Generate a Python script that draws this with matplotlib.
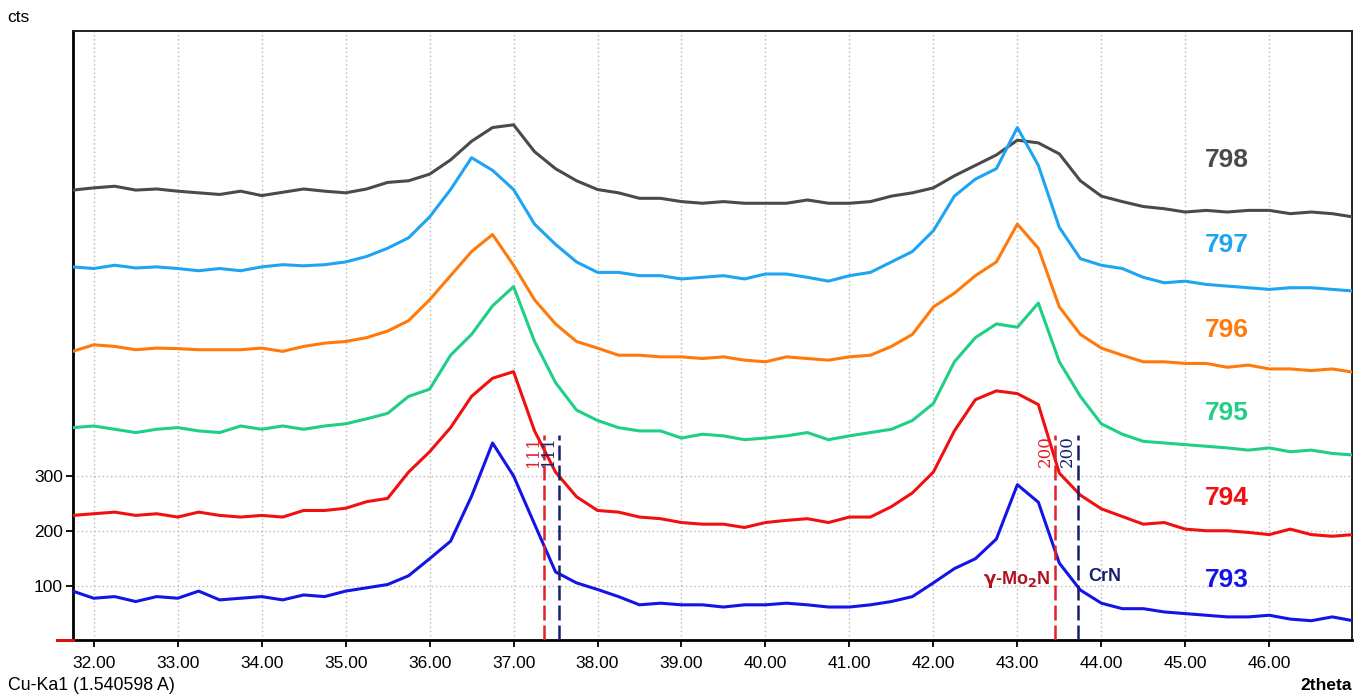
import numpy as np
import matplotlib.pyplot as plt

plt.rcParams['font.family'] = ['Liberation Sans', 'DejaVu Sans']

two_theta = [31.75, 32.00, 32.25, 32.50, 32.75, 33.00, 33.25, 33.50, 33.75, 34.00,
             34.25, 34.50, 34.75, 35.00, 35.25, 35.50, 35.75, 36.00, 36.25, 36.50,
             36.75, 37.00, 37.25, 37.50, 37.75, 38.00, 38.25, 38.50, 38.75, 39.00,
             39.25, 39.50, 39.75, 40.00, 40.25, 40.50, 40.75, 41.00, 41.25, 41.50,
             41.75, 42.00, 42.25, 42.50, 42.75, 43.00, 43.25, 43.50, 43.75, 44.00,
             44.25, 44.50, 44.75, 45.00, 45.25, 45.50, 45.75, 46.00, 46.25, 46.50,
             46.75, 47.00]

# counts as displayed (with the stacking offset of the original plot)
cts_798 = [821, 825, 828, 821, 823, 819, 816, 813, 819, 811, 817, 823, 819, 816, 823, 835,
           838, 850, 876, 910, 935, 940, 891, 860, 838, 822, 816, 806, 806, 800, 797, 800,
           797, 797, 797, 803, 797, 797, 800, 810, 816, 825, 847, 866, 885, 912, 907, 887,
           838, 810, 800, 791, 787, 781, 784, 781, 784, 784, 778, 781, 778, 772]
cts_797 = [681, 678, 684, 679, 681, 678, 674, 678, 674, 681, 685, 683, 685, 690, 700, 715,
           734, 772, 822, 880, 857, 822, 759, 722, 690, 671, 671, 665, 665, 659, 662, 665,
           659, 668, 668, 662, 655, 665, 671, 690, 709, 747, 810, 841, 860, 935, 866, 753,
           696, 684, 678, 662, 652, 655, 649, 646, 643, 640, 643, 643, 640, 637]
cts_796 = [527, 539, 536, 530, 533, 532, 530, 530, 530, 533, 527, 536, 542, 545, 552, 564,
           583, 621, 665, 709, 740, 684, 621, 577, 545, 533, 520, 520, 517, 517, 514, 517,
           511, 508, 517, 514, 511, 517, 520, 536, 558, 608, 633, 665, 690, 759, 715, 608,
           558, 533, 520, 508, 508, 505, 505, 498, 502, 495, 495, 492, 495, 489]
cts_795 = [388, 391, 385, 379, 385, 388, 382, 379, 391, 385, 391, 385, 391, 395, 404, 414,
           445, 458, 520, 558, 610, 645, 545, 470, 420, 401, 388, 382, 382, 369, 376, 373,
           366, 369, 373, 379, 366, 373, 379, 385, 401, 432, 508, 552, 577, 571, 615, 508,
           445, 395, 376, 363, 360, 357, 354, 351, 347, 351, 344, 347, 341, 338]
cts_794 = [228, 231, 234, 228, 231, 225, 234, 228, 225, 228, 225, 237, 237, 241, 253, 259,
           307, 344, 388, 445, 478, 490, 382, 307, 262, 237, 234, 225, 222, 215, 212, 212,
           206, 215, 219, 222, 215, 225, 225, 244, 269, 307, 382, 439, 455, 450, 430, 305,
           265, 240, 226, 212, 215, 203, 200, 200, 197, 193, 203, 193, 190, 193]
cts_793 = [90, 77, 80, 71, 80, 77, 90, 74, 77, 80, 74, 83, 80, 90, 96, 102,
           118, 149, 181, 263, 360, 300, 212, 125, 105, 93, 80, 65, 68, 65, 65, 61,
           65, 65, 68, 65, 61, 61, 65, 71, 80, 105, 131, 149, 185, 284, 252, 141,
           92, 68, 58, 58, 52, 49, 46, 43, 43, 46, 39, 36, 43, 36]

samples = ['798', '797', '796', '795', '794', '793']
series = [cts_798, cts_797, cts_796, cts_795, cts_794, cts_793]
colors = ['#4a4a4a', '#1ea4f2', '#ff7a0a', '#1fcf85', '#f01010', '#1414e6']
label_y = [876, 721, 566, 415, 260, 110]

# reference patterns: (2theta, hkl, colour)
ref_pos = [37.36, 37.54, 43.45, 43.72]
ref_hkl = ['111', '111', '200', '200']
ref_col = ['#e0202a', '#16206e', '#e0202a', '#16206e']
ref_top = 375

fig = plt.figure(figsize=(13.67, 6.98), dpi=100)
ax = fig.add_axes([0.0532, 0.0824, 0.9358, 0.8732])

for vals, c in zip(series, colors):
    ax.plot(two_theta, vals, color=c, lw=2.2, zorder=3)

for name, c, ly in zip(samples, colors, label_y):
    ax.text(45.5, ly, name, color=c, fontsize=19, fontweight='bold',
            ha='center', va='center', zorder=5)

for pos, hkl, c in zip(ref_pos, ref_hkl, ref_col):
    ax.plot([pos, pos], [0, ref_top], color=c, lw=1.8,
            dashes=(6, 2), zorder=4)
    ax.text(pos - 0.02, ref_top, hkl, color=c, fontsize=12, rotation=90,
            ha='right', va='top', family='DejaVu Serif', fontweight='light',
            zorder=4)

ax.text(43.39, 112, r'$\mathbf{\gamma}$-Mo$_\mathbf{2}$N', color='#b01020',
        fontsize=13, fontweight='bold', ha='right', va='center', zorder=5)
ax.text(43.84, 116, 'CrN', color='#16206e', fontsize=13, fontweight='bold',
        ha='left', va='center', zorder=5)

ax.set_xlim(31.75, 46.985)
ax.set_ylim(0, 1111)
ax.set_xticks(np.arange(32, 47, 1.0))
ax.set_xticklabels(['%.2f' % v for v in np.arange(32, 47, 1.0)])
ax.set_yticks([100, 200, 300])
ax.grid(True, color='#b8b8b8', linestyle=(0, (1, 2)), lw=1.0, zorder=0)
ax.tick_params(axis='both', direction='out', length=5, width=1.3,
               labelsize=12.5)
ax.tick_params(axis='x', pad=6)
ax.tick_params(axis='y', pad=2)

for s in ['left', 'bottom']:
    ax.spines[s].set_linewidth(2.0)
for s in ['top', 'right']:
    ax.spines[s].set_linewidth(1.4)
    ax.spines[s].set_color('#222222')

# small red zero marker left of the axis
ax.plot([-0.012, 0], [0, 0], color='#e01010', lw=2.2,
        transform=ax.get_yaxis_transform(), clip_on=False, zorder=6)

fig.text(7 / 1367, 1 - 17 / 698, 'cts', fontsize=12.5, va='center', ha='left')
fig.text(8 / 1367, 1 - 685 / 698, 'Cu-Ka1 (1.540598 A)', fontsize=12.8,
         va='center', ha='left')
fig.text(1352 / 1367, 1 - 685 / 698, '2theta', fontsize=12.5, fontweight='bold',
         va='center', ha='right')

fig.savefig('out.png', dpi=100)
